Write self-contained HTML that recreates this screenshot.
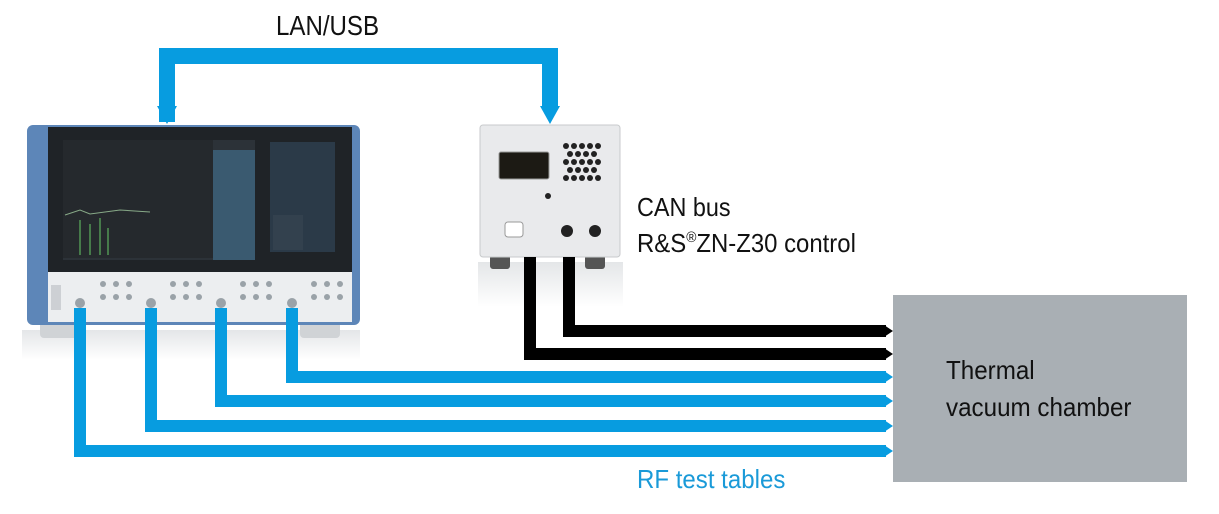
<!DOCTYPE html>
<html><head><meta charset="utf-8"><style>
html,body{margin:0;padding:0;background:#fff;}
.t{position:absolute;font-family:"Liberation Sans",sans-serif;color:#111;white-space:nowrap;line-height:1;transform-origin:0 0;}
</style></head><body>
<div style="position:relative;width:1219px;height:514px;overflow:hidden;">
<svg width="1219" height="514" style="position:absolute;left:0;top:0">
<defs>
<linearGradient id="sh" x1="0" y1="0" x2="0" y2="1"><stop offset="0" stop-color="#e4e6e8"/><stop offset="1" stop-color="#fff"/></linearGradient>
</defs>
<rect x="893" y="295" width="294" height="187" fill="#a9afb4"/>
<path d="M167 122 V56 H550 V108" fill="none" stroke="#079ce0" stroke-width="16"/>
<polygon points="540,106 560,106 550,124" fill="#079ce0"/>
<polygon points="157,106 177,106 167,124" fill="#079ce0"/>
<rect x="22" y="330" width="338" height="30" fill="url(#sh)"/>
<rect x="40" y="318" width="40" height="20" rx="4" fill="#d0d3d6"/>
<rect x="300" y="318" width="40" height="20" rx="4" fill="#d0d3d6"/>
<rect x="27" y="125" width="333" height="200" rx="6" fill="#5d86b8"/>
<rect x="48" y="127" width="304" height="145" fill="#1f2327"/>
<rect x="63" y="140" width="192" height="120" fill="#2c3238"/>
<rect x="63" y="140" width="150" height="118" fill="#25292d"/>
<rect x="213" y="150" width="42" height="110" fill="#3a5a70"/>
<rect x="270" y="142" width="65" height="110" fill="#2b3a48"/>
<rect x="273" y="215" width="30" height="35" fill="#33414e"/>
<path d="M65 215 L80 210 L90 214 L120 210 L150 212" stroke="#8a8" fill="none"/>
<path d="M80 255 V220 M90 255 V224 M100 255 V218 M108 255 V228" stroke="#6c6" stroke-width="1"/>
<rect x="48" y="272" width="304" height="50" fill="#eceef0"/>
<rect x="51" y="285" width="10" height="25" fill="#cdd0d4"/>
<g fill="#9aa2a8">
<circle cx="80" cy="303" r="5"/><circle cx="151" cy="303" r="5"/><circle cx="221" cy="303" r="5"/><circle cx="292" cy="303" r="5"/>
<circle cx="103" cy="284" r="3"/><circle cx="116" cy="284" r="3"/><circle cx="129" cy="284" r="3"/><circle cx="103" cy="297" r="3"/><circle cx="116" cy="297" r="3"/><circle cx="129" cy="297" r="3"/>
<circle cx="173" cy="284" r="3"/><circle cx="186" cy="284" r="3"/><circle cx="199" cy="284" r="3"/><circle cx="173" cy="297" r="3"/><circle cx="186" cy="297" r="3"/><circle cx="199" cy="297" r="3"/>
<circle cx="243" cy="284" r="3"/><circle cx="256" cy="284" r="3"/><circle cx="269" cy="284" r="3"/><circle cx="243" cy="297" r="3"/><circle cx="256" cy="297" r="3"/><circle cx="269" cy="297" r="3"/>
<circle cx="314" cy="284" r="3"/><circle cx="327" cy="284" r="3"/><circle cx="340" cy="284" r="3"/><circle cx="314" cy="297" r="3"/><circle cx="327" cy="297" r="3"/><circle cx="340" cy="297" r="3"/>
</g>
<rect x="478" y="262" width="145" height="45" fill="url(#sh)"/>
<rect x="490" y="255" width="20" height="14" rx="3" fill="#555"/>
<rect x="585" y="255" width="20" height="14" rx="3" fill="#555"/>
<rect x="480" y="125" width="140" height="132" rx="3" fill="#e9eaec" stroke="#c8cacc"/>
<rect x="499" y="152" width="50" height="27" rx="2" fill="#1c1a14" stroke="#999"/>
<g fill="#222">
<circle cx="566" cy="146" r="3"/><circle cx="574" cy="146" r="3"/><circle cx="582" cy="146" r="3"/><circle cx="590" cy="146" r="3"/><circle cx="598" cy="146" r="3"/>
<circle cx="570" cy="154" r="3"/><circle cx="578" cy="154" r="3"/><circle cx="586" cy="154" r="3"/><circle cx="594" cy="154" r="3"/>
<circle cx="566" cy="162" r="3"/><circle cx="574" cy="162" r="3"/><circle cx="582" cy="162" r="3"/><circle cx="590" cy="162" r="3"/><circle cx="598" cy="162" r="3"/>
<circle cx="570" cy="170" r="3"/><circle cx="578" cy="170" r="3"/><circle cx="586" cy="170" r="3"/><circle cx="594" cy="170" r="3"/>
<circle cx="566" cy="178" r="3"/><circle cx="574" cy="178" r="3"/><circle cx="582" cy="178" r="3"/><circle cx="590" cy="178" r="3"/><circle cx="598" cy="178" r="3"/>
<circle cx="548" cy="196" r="3"/>
<circle cx="567" cy="231" r="6"/><circle cx="595" cy="231" r="6"/>
</g>
<rect x="505" y="222" width="18" height="15" rx="3" fill="#fff" stroke="#999"/>
<path d="M530 257 V354 H886 M569 257 V331 H886" fill="none" stroke="#000" stroke-width="12"/>
<polygon points="884,348 893,354 884,360" fill="#000"/>
<polygon points="884,325 893,331 884,337" fill="#000"/>
<path d="M292 308 V377 H886 M221 308 V401 H886 M151 308 V426 H886 M80 308 V451 H886" fill="none" stroke="#079ce0" stroke-width="12"/>
<polygon points="884,371 893,377 884,383" fill="#079ce0"/>
<polygon points="884,395 893,401 884,407" fill="#079ce0"/>
<polygon points="884,420 893,426 884,432" fill="#079ce0"/>
<polygon points="884,445 893,451 884,457" fill="#079ce0"/>
</svg>
<div class="t" style="left:276px;top:12px;font-size:28px;transform:scaleX(0.86);">LAN/USB</div>
<div class="t" style="left:637px;top:194px;font-size:26px;transform:scaleX(0.9);">CAN bus</div>
<div class="t" style="left:637px;top:230px;font-size:26px;transform:scaleX(0.92);">R&amp;S<sup style="font-size:15px;vertical-align:10px;line-height:0">®</sup>ZN-Z30 control</div>
<div class="t" style="left:946px;top:357px;font-size:26px;transform:scaleX(0.93);">Thermal</div>
<div class="t" style="left:946px;top:394px;font-size:26px;transform:scaleX(0.93);">vacuum chamber</div>
<div class="t" style="left:637px;top:466px;font-size:26px;color:#1a9ad8;transform:scaleX(0.925);">RF test tables</div>
</div>
</body></html>
